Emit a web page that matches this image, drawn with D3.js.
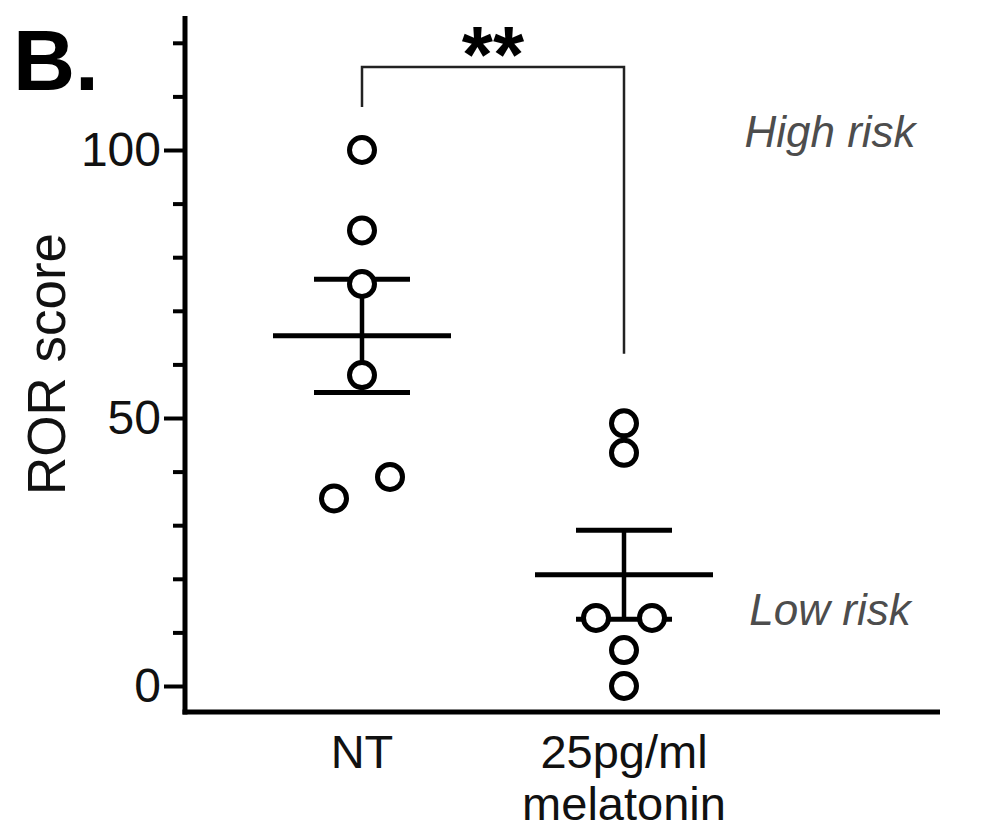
<!DOCTYPE html>
<html>
<head>
<meta charset="utf-8">
<script src="https://cdn.jsdelivr.net/npm/d3@7"></script>
<style>
  body { margin: 0; background: #fff; }
  svg text { font-family: "Liberation Sans", Arial, Helvetica, sans-serif; }
</style>
</head>
<body>
<div id="chart"></div>
<script>
// data (ROR score per sample)
var groups = ["NT", "25pg/ml melatonin"];
var groupLabels = [["NT"], ["25pg/ml", "melatonin"]];
var ntScores = [100, 85, 75, 58, 39, 35];
var melatoninScores = [49, 43.5, 12.7, 12.7, 6.7, 0];
var majorTicks = [0, 50, 100];
var minorTicks = [10, 20, 30, 40, 60, 70, 80, 90, 110, 120];
var riskLabels = [
  { text: "High risk", value: 100.6 },
  { text: "Low risk", value: 11.4 }
];
var bracket = { top: 115.5, leftEnd: 108, rightEnd: 62, label: "**" };

var width = 982, height = 832;
var r = 12.5;

var svg = d3.select("#chart").append("svg")
  .attr("width", width)
  .attr("height", height);

var y = d3.scaleLinear().domain([0, 125]).range([686, 16]);
var x = d3.scalePoint().domain(groups).range([362, 624]);
var axisX = 185, axisY = 712;

// panel letter
svg.append("text")
  .attr("x", 13).attr("y", 90)
  .attr("font-size", 86).attr("font-weight", "bold")
  .text("B.");

// y axis: major ticks with labels, minor ticks without
var yMajor = svg.append("g")
  .attr("transform", "translate(" + axisX + ",0)")
  .call(d3.axisLeft(y).tickValues(majorTicks).tickSize(21).tickPadding(3).tickSizeOuter(0));
var yMinor = svg.append("g")
  .attr("transform", "translate(" + axisX + ",0)")
  .call(d3.axisLeft(y).tickValues(minorTicks).tickSize(12).tickFormat("").tickSizeOuter(0));
svg.selectAll(".domain").remove();
svg.selectAll(".tick line").attr("stroke", "#000").attr("stroke-width", 4);
yMajor.selectAll(".tick text")
  .attr("font-size", 48).attr("fill", "#111")
  .attr("font-family", "Liberation Sans, Arial, sans-serif");

// axis lines
svg.append("line")
  .attr("x1", axisX).attr("x2", axisX)
  .attr("y1", axisY + 2.5).attr("y2", y(125))
  .attr("stroke", "#000").attr("stroke-width", 5);
svg.append("line")
  .attr("x1", axisX - 2.5).attr("x2", 940)
  .attr("y1", axisY).attr("y2", axisY)
  .attr("stroke", "#000").attr("stroke-width", 5);

// y axis title
svg.append("text")
  .attr("transform", "translate(65," + 364 + ") rotate(-90)")
  .attr("text-anchor", "middle")
  .attr("font-size", 53).attr("fill", "#111")
  .text("ROR score");

// group labels
groupLabels.forEach(function(lines, i) {
  var t = svg.append("text")
    .attr("text-anchor", "middle")
    .attr("font-size", 47).attr("fill", "#111");
  lines.forEach(function(s, j) {
    t.append("tspan")
      .attr("x", x(groups[i]))
      .attr("y", 768 + j * 52)
      .text(s);
  });
});

// simple row-based spreading of points that would overlap
function spread(values) {
  var pts = values.map(function(v) { return { v: v, py: y(v), dx: 0 }; })
    .sort(function(a, b) { return a.v - b.v; });
  var rows = [], cur = [];
  pts.forEach(function(p) {
    if (cur.length && Math.abs(p.py - cur[cur.length - 1].py) < 2 * r + 4) cur.push(p);
    else { if (cur.length) rows.push(cur); cur = [p]; }
  });
  if (cur.length) rows.push(cur);
  rows.forEach(function(row) {
    row.forEach(function(p, i) { p.dx = (i - (row.length - 1) / 2) * 56; });
  });
  return pts;
}

var series = [ntScores, melatoninScores];
series.forEach(function(vals, i) {
  var cx = x(groups[i]);
  var m = d3.mean(vals);
  var sem = d3.deviation(vals) / Math.sqrt(vals.length);
  var g = svg.append("g");

  // SEM whisker
  g.append("line")
    .attr("x1", cx).attr("x2", cx)
    .attr("y1", y(m + sem)).attr("y2", y(m - sem))
    .attr("stroke", "#000").attr("stroke-width", 4.5);
  [m + sem, m - sem].forEach(function(v) {
    g.append("line")
      .attr("x1", cx - 48).attr("x2", cx + 48)
      .attr("y1", y(v)).attr("y2", y(v))
      .attr("stroke", "#000").attr("stroke-width", 5);
  });
  // mean
  g.append("line")
    .attr("x1", cx - 89).attr("x2", cx + 89)
    .attr("y1", y(m)).attr("y2", y(m))
    .attr("stroke", "#000").attr("stroke-width", 5);

  g.selectAll("circle")
    .data(spread(vals))
    .enter().append("circle")
    .attr("cx", function(d) { return cx + d.dx; })
    .attr("cy", function(d) { return d.py; })
    .attr("r", r)
    .attr("fill", "#fff")
    .attr("stroke", "#000")
    .attr("stroke-width", 5);
});

// significance bracket
var bx1 = x(groups[0]), bx2 = x(groups[1]);
svg.append("path")
  .attr("d", "M" + bx1 + "," + y(bracket.leftEnd) +
             "V" + y(bracket.top) +
             "H" + bx2 +
             "V" + y(bracket.rightEnd))
  .attr("fill", "none")
  .attr("stroke", "#222")
  .attr("stroke-width", 2.5);
svg.append("text")
  .attr("x", (bx1 + bx2) / 2)
  .attr("y", 82)
  .attr("text-anchor", "middle")
  .attr("font-size", 80).attr("font-weight", "bold")
  .text(bracket.label);

// risk annotations
svg.selectAll(".risk")
  .data(riskLabels)
  .enter().append("text")
  .attr("class", "risk")
  .attr("x", 830)
  .attr("y", function(d) { return y(d.value); })
  .attr("text-anchor", "middle")
  .attr("font-size", 44)
  .attr("font-style", "italic")
  .attr("fill", "#4d4d4d")
  .text(function(d) { return d.text; });
</script>
</body>
</html>
